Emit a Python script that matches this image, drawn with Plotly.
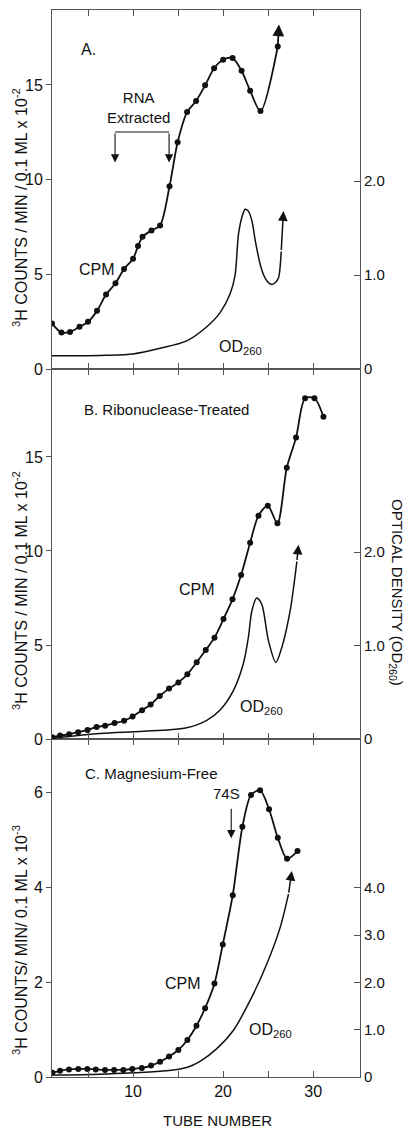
import plotly.graph_objects as go

FONT = "Liberation Sans, Arial, sans-serif"

# ---------------- data ----------------
# Panel A
tube_a = [1.0, 2.05, 3.0, 4.05, 5.0, 6.0, 7.0, 8.05, 9.0, 10.0, 10.55, 11.05, 12.05, 13.0,
          14.05, 14.95, 16.0, 17.0, 18.0, 19.0, 20.0, 21.05, 22.05, 23.0, 24.15, 26.07]
cpm_a = [2.40, 1.93, 1.96, 2.23, 2.49, 3.07, 3.93, 4.53, 5.28, 5.82, 6.49, 6.98, 7.32, 7.58,
         9.65, 11.98, 13.57, 14.16, 14.98, 15.88, 16.33, 16.42, 15.75, 14.70, 13.62, 17.03]
od_tube_a = [1.0, 4.0, 7.0, 10.0, 13.0, 15.96, 18.19, 19.67, 20.78, 21.33, 21.7, 22.1, 22.44,
             22.8, 23.19, 23.6, 24.1, 24.5, 24.85, 25.4, 25.8, 26.15, 26.45]
od_a = [0.14, 0.14, 0.145, 0.16, 0.22, 0.30, 0.45, 0.60, 0.80, 1.00, 1.43, 1.62, 1.70,
        1.68, 1.58, 1.35, 1.12, 1.00, 0.94, 0.90, 0.92, 0.97, 1.25]
cpm_a_tip = [26.2, 18.2]
od_a_tip = [26.7, 1.68]

# Panel B
tube_b = [1.04, 1.9, 2.9, 3.9, 4.95, 5.95, 6.9, 7.95, 9.0, 9.95, 11.0, 11.95, 12.96, 14.0,
          15.03, 16.03, 17.07, 18.07, 19.04, 20.04, 21.04, 22.0, 23.0, 23.93, 24.96, 26.03,
          27.07, 28.1, 29.1, 30.14, 31.14]
cpm_b = [0.09, 0.18, 0.25, 0.36, 0.48, 0.64, 0.71, 0.85, 0.97, 1.20, 1.53, 1.83, 2.29, 2.68,
         3.01, 3.44, 4.08, 4.73, 5.39, 6.38, 7.43, 8.72, 10.44, 11.88, 12.41, 11.47,
         14.43, 16.03, 18.12, 18.12, 17.14]
od_tube_b = [1.04, 6.33, 10.04, 13.74, 15.96, 18.19, 19.67, 21.15, 22.26, 22.81, 23.19,
             23.74, 24.3, 25.04, 25.85, 26.52, 27.44, 28.19]
od_b = [0.01, 0.06, 0.078, 0.096, 0.12, 0.20, 0.31, 0.52, 0.81, 1.09, 1.37, 1.51, 1.44,
        1.05, 0.82, 0.98, 1.37, 1.90]
od_b_tip = [28.37, 2.08]

# Panel C
tube_c = [1.04, 1.89, 2.89, 3.92, 4.92, 5.86, 6.89, 7.89, 8.92, 9.92, 10.97, 12.0, 13.0,
          14.0, 15.03, 16.03, 17.04, 18.0, 19.04, 19.96, 21.07, 22.14, 23.1, 24.1, 25.1,
          26.07, 27.1, 28.26]
cpm_c = [0.09, 0.13, 0.16, 0.17, 0.17, 0.16, 0.15, 0.15, 0.15, 0.17, 0.19, 0.24, 0.32, 0.43,
         0.57, 0.78, 1.08, 1.45, 1.97, 2.79, 3.83, 5.27, 5.94, 6.04, 5.64, 5.04, 4.60, 4.76]
od_tube_c = [1.04, 6.33, 10.04, 13.74, 15.96, 17.44, 19.3, 21.15, 23.0, 24.85, 26.33, 27.26]
od_c = [0.04, 0.06, 0.09, 0.13, 0.20, 0.33, 0.60, 0.99, 1.62, 2.39, 3.16, 3.87]
od_c_tip = [27.63, 4.36]

x_major = [10, 20, 30]
x_minor = [5, 15, 25]
left_ticks_ab = [0, 5, 10, 15]
left_ticks_c = [0, 2, 4, 6]
right_ticks_ab = [0, 1, 2]
right_text_ab = ["0", "1.0", "2.0"]
right_ticks_c = [0, 1, 2, 3, 4]
right_text_c = ["0", "1.0", "2.0", "3.0", "4.0"]

rna_arrows_x = [8.0, 14.0]
s74_x = 20.9

# ---------------- figure ----------------
fig = go.Figure()

INK = "#111111"
AX = "#555555"

def cpm_trace(x, y, xa, ya):
    return go.Scatter(x=x, y=y, xaxis=xa, yaxis=ya, mode="lines+markers",
                      line=dict(color=INK, width=1.8, shape="spline", smoothing=0.8),
                      marker=dict(color=INK, size=6), showlegend=False, hoverinfo="skip")

def od_trace(x, y, xa, ya):
    return go.Scatter(x=x, y=y, xaxis=xa, yaxis=ya, mode="lines",
                      line=dict(color=INK, width=1.5, shape="spline", smoothing=0.8),
                      showlegend=False, hoverinfo="skip")

# A = x3/y3 (right y4), B = x2/y2 (right y5), C = x/y (right y6)
fig.add_trace(cpm_trace(tube_a, cpm_a, "x3", "y3"))
fig.add_trace(od_trace(od_tube_a, od_a, "x3", "y4"))
fig.add_trace(cpm_trace(tube_b, cpm_b, "x2", "y2"))
fig.add_trace(od_trace(od_tube_b, od_b, "x2", "y5"))
fig.add_trace(cpm_trace(tube_c, cpm_c, "x", "y"))
fig.add_trace(od_trace(od_tube_c, od_c, "x", "y6"))

dom_c = [0, 338 / 1067]
dom_b = [338 / 1067, 708 / 1067]
dom_a = [708 / 1067, 1]
xr = [1.0, 35.2]

axis_line = dict(showline=True, linecolor=AX, linewidth=1, showgrid=False, zeroline=False)
tickfont = dict(family=FONT, size=16, color=INK)
rtickfont = dict(family=FONT, size=15, color=INK)

def xaxis(anchor, show_labels):
    return dict(axis_line, range=xr, anchor=anchor, domain=[0, 1], mirror="allticks",
                ticks="inside", ticklen=6, tickcolor=AX, tickvals=x_major,
                tickfont=tickfont, showticklabels=show_labels,
                minor=dict(tickvals=x_minor, ticks="inside", ticklen=6, tickcolor=AX,
                           showgrid=False))

def yleft(dom, rng, ticks, anchor):
    return dict(axis_line, domain=dom, range=rng, anchor=anchor, ticks="outside", ticklen=5,
                tickcolor=AX, tickvals=ticks, tickfont=tickfont)

def yright(dom, rng, ticks, text, anchor, overlay):
    return dict(axis_line, domain=dom, range=rng, anchor=anchor, overlaying=overlay,
                side="right", ticks="inside", ticklen=6, tickcolor=AX,
                tickvals=ticks, ticktext=text, tickfont=rtickfont)

fig.update_layout(
    width=409, height=1129, autosize=False,
    margin=dict(l=52, r=49, t=10, b=52),
    paper_bgcolor="white", plot_bgcolor="white",
    font=dict(family=FONT, color=INK),
    xaxis=xaxis("y", True),
    xaxis2=xaxis("y2", False),
    xaxis3=xaxis("y3", False),
    yaxis=yleft(dom_c, [0, 7.12], left_ticks_c, "x"),
    yaxis2=yleft(dom_b, [0, 19.68], left_ticks_ab, "x2"),
    yaxis3=yleft(dom_a, [0, 18.96], left_ticks_ab, "x3"),
    yaxis4=yright(dom_a, [0, 3.82], right_ticks_ab, right_text_ab, "x3", "y3"),
    yaxis5=yright(dom_b, [0, 3.96], right_ticks_ab, right_text_ab, "x2", "y2"),
    yaxis6=yright(dom_c, [0, 7.15], right_ticks_c, right_text_c, "x", "y"),
)

ann = []

def label(text, x, y, xref, yref, size=16, xanchor="center"):
    ann.append(dict(text=text, x=x, y=y, xref=xref, yref=yref, showarrow=False,
                    xanchor=xanchor, yanchor="middle", font=dict(family=FONT, size=size, color=INK)))

def arrow(x, y, ax, ay, xref, yref, width=1.5, size=1.3):
    ann.append(dict(text="", x=x, y=y, ax=ax, ay=ay, xref=xref, yref=yref, axref=xref,
                    ayref=yref, showarrow=True, arrowhead=2, arrowsize=size,
                    arrowwidth=width, arrowcolor=INK))

# Panel A labels
label("A.", 5.0, 16.85, "x3", "y3")
label("RNA<br>Extracted", 10.6, 13.8, "x3", "y3", size=15)
label("CPM", 6.0, 5.23, "x3", "y3")
label("OD<sub>260</sub>", 21.9, 1.15, "x3", "y3")
arrow(cpm_a_tip[0], cpm_a_tip[1], tube_a[-1], cpm_a[-1], "x3", "y3", width=1.8)
arrow(od_a_tip[0], od_a_tip[1], od_tube_a[-1], od_a[-1], "x3", "y4")
for xa in rna_arrows_x:
    arrow(xa, 10.9, xa, 12.52, "x3", "y3", width=1.1, size=1.5)
fig.add_shape(type="line", x0=rna_arrows_x[0], x1=rna_arrows_x[1], y0=12.52, y1=12.52,
              xref="x3", yref="y3", line=dict(color=INK, width=1.1))

# Panel B labels
label("B. Ribonuclease-Treated", 4.33, 17.55, "x2", "y2", size=15, xanchor="left")
label("CPM", 17.1, 7.93, "x2", "y2")
label("OD<sub>260</sub>", 24.3, 1.7, "x2", "y2")
arrow(od_b_tip[0], od_b_tip[1], od_tube_b[-1], od_b[-1], "x2", "y5")

# Panel C labels
label("C. Magnesium-Free", 4.44, 6.4, "x", "y", size=15, xanchor="left")
label("74S", 20.4, 5.98, "x", "y", size=15)
arrow(s74_x, 5.03, s74_x, 5.68, "x", "y", width=1.1, size=1.5)
label("CPM", 15.6, 1.98, "x", "y")
label("OD<sub>260</sub>", 25.3, 0.99, "x", "y")
arrow(od_c_tip[0], od_c_tip[1], od_tube_c[-1], od_c[-1], "x", "y6")

# Axis titles
ytitle_ab = "<sup>3</sup>H COUNTS / MIN / 0.1 ML x 10<sup>-2</sup>"
ytitle_c = "<sup>3</sup>H COUNTS/ MIN/ 0.1 ML x 10<sup>-3</sup>"
for txt, yy in [(ytitle_ab, 0.8154), (ytitle_ab, 0.4564), (ytitle_c, 0.1284)]:
    ann.append(dict(text=txt, x=-0.104, y=yy, xref="paper", yref="paper", showarrow=False,
                    textangle=-90, xanchor="center", yanchor="middle",
                    font=dict(family=FONT, size=16, color=INK)))
ann.append(dict(text="OPTICAL DENSITY (OD<sub>260</sub>)", x=1.12, y=0.4536, xref="paper",
                yref="paper", showarrow=False, textangle=90, xanchor="center",
                yanchor="middle", font=dict(family=FONT, size=15, color=INK)))
ann.append(dict(text="TUBE NUMBER", x=0.536, y=-0.0403, xref="paper", yref="paper",
                showarrow=False, xanchor="center", yanchor="middle",
                font=dict(family=FONT, size=15, color=INK)))

fig.update_layout(annotations=ann)
fig.write_html("out.html", config={"displayModeBar": False},
               post_script="document.body.style.margin='0px';")
